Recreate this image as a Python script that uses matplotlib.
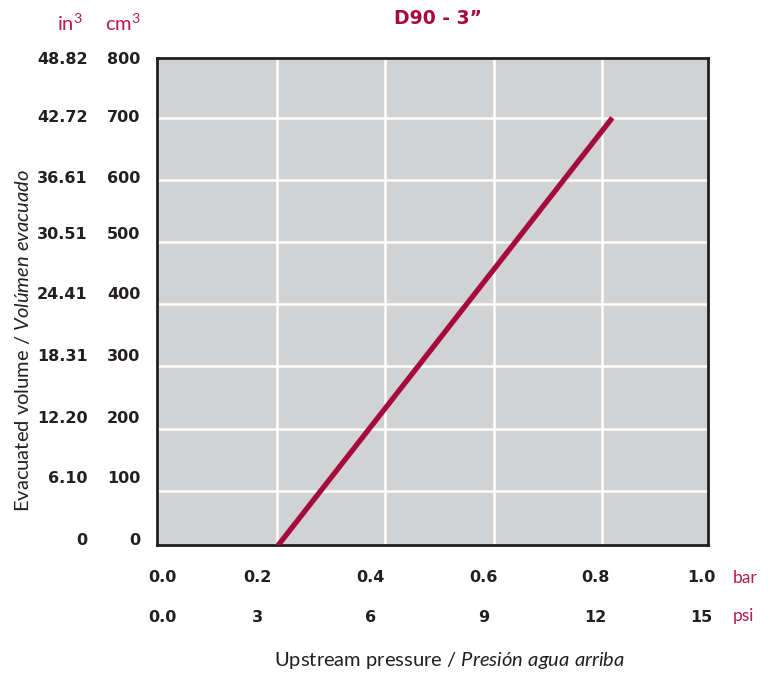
import matplotlib.pyplot as plt
import numpy as np

# data
bar_vals = [0.19, 0.82]          # upstream pressure (bar)
vol_cm3 = [0, 700]               # evacuated volume (cm3)

bar_labels = ['0.0', '0.2', '0.4', '0.6', '0.8', '1.0']
psi_labels = ['0.0', '3', '6', '9', '12', '15']
cm3_labels = ['0', '100', '200', '300', '400', '500', '600', '700', '800']
in3_labels = ['0', '6.10', '12.20', '18.31', '24.41', '30.51', '36.61', '42.72', '48.82']

# layout: grid lines and where the printed labels sit (not quite on the grid)
x_grid = [0.2, 0.4, 0.6, 0.8]
y_grid = [100, 200, 300, 400, 500, 600, 700]
x_lab_pos = [-0.013, 0.163, 0.372, 0.581, 0.789, 0.984]
y_lab_pos = [22.7, 122.8, 219.3, 318.5, 417.7, 515, 605, 702.7, 796]

red = '#A6093D'
unit_red = '#B8194C'
dark = '#231F20'

plt.rcParams['mathtext.fontset'] = 'custom'
plt.rcParams['mathtext.rm'] = 'Lato'
plt.rcParams['mathtext.it'] = 'Lato:italic'

fig = plt.figure(figsize=(7.73, 6.73), dpi=100)
ax = fig.add_axes([0.2031, 0.1902, 0.7128, 0.7236])
ax.set_facecolor('#D1D2D4')

ax.plot(bar_vals, vol_cm3, color=red, linewidth=3.8, solid_capstyle='butt', zorder=3)

ax.set_xlim(-0.023, 0.997)
ax.set_ylim(13, 796)
ax.set_xticks(x_lab_pos, bar_labels)
ax.set_yticks(y_lab_pos, cm3_labels)
ax.set_xticks(x_grid, minor=True)
ax.set_yticks(y_grid, minor=True)
ax.grid(True, which='minor', color='white', linewidth=1.8)
ax.grid(False, which='major')
ax.set_axisbelow(True)
for s in ax.spines.values():
    s.set_color(dark)
    s.set_linewidth(2.0)
ax.tick_params(which='both', length=0, labelsize=11.5, labelcolor=dark)
ax.tick_params(axis='x', pad=18)
ax.tick_params(axis='y', pad=12)
for t in ax.get_xticklabels() + ax.get_yticklabels():
    t.set_fontweight('bold')

# psi row
secx = ax.secondary_xaxis('bottom')
secx.set_xticks(x_lab_pos, psi_labels)
secx.tick_params(length=0, pad=47, labelsize=11.5, labelcolor=dark)
secx.spines['bottom'].set_visible(False)
for t in secx.get_xticklabels():
    t.set_fontweight('bold')

# in3 column
secy = ax.secondary_yaxis('left')
secy.set_yticks(y_lab_pos, in3_labels)
secy.tick_params(length=0, pad=50, labelsize=11.5, labelcolor=dark)
secy.spines['left'].set_visible(False)
for t in secy.get_yticklabels():
    t.set_fontweight('bold')

fig.text(0.566, 0.972, 'D90 - 3\u201d', color=red, fontsize=13.5, fontweight='bold',
         ha='center', va='center')
fig.text(0.091, 0.965, r'in$^3$', color=unit_red, fontsize=14.5, family='Lato',
         ha='center', va='center')
fig.text(0.159, 0.965, r'cm$^3$', color=unit_red, fontsize=14.5, family='Lato',
         ha='center', va='center')
fig.text(0.948, 0.141, 'bar', color=unit_red, fontsize=12.5, family='Lato',
         ha='left', va='center')
fig.text(0.948, 0.084, 'psi', color=unit_red, fontsize=12.5, family='Lato',
         ha='left', va='center')

fig.text(0.581, 0.018, r'Upstream pressure / $\it{Presión\ agua\ arriba}$',
         fontsize=14.5, family='Lato', color=dark, ha='center', va='center')
fig.text(0.029, 0.494, r'Evacuated volume / $\it{Volúmen\ evacuado}$',
         fontsize=14.5, family='Lato', color=dark, ha='center', va='center',
         rotation=90)

fig.savefig('out.png', dpi=100)
